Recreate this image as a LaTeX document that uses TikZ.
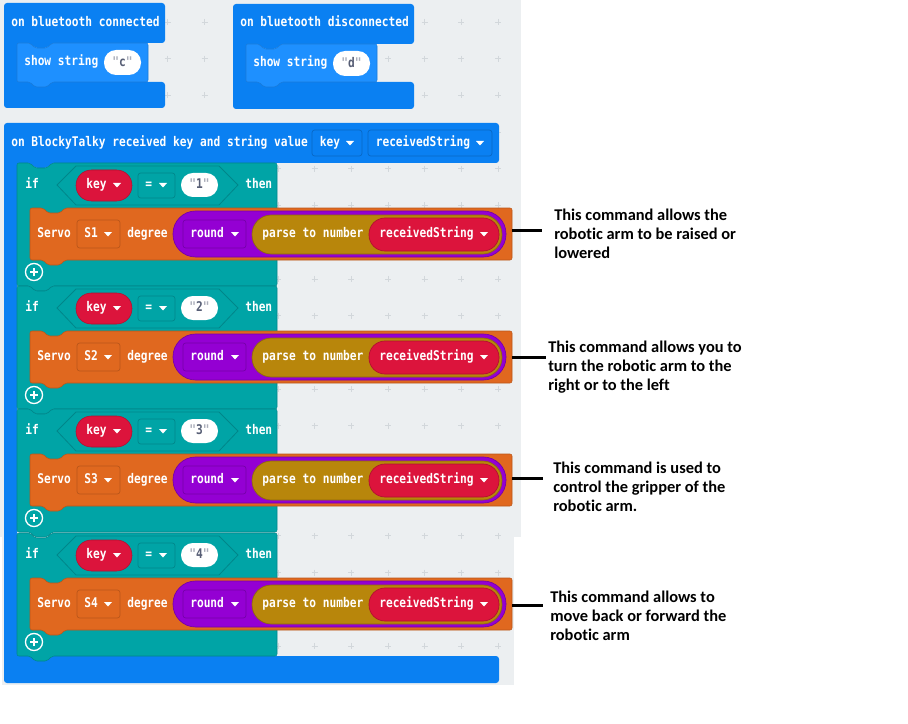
\documentclass[tikz,border=0pt]{standalone}
\usepackage{fontspec}
\newfontfamily\blkfont{DejaVu Sans Mono}[FakeStretch=0.84]
\newfontfamily\notefont{Carlito}[Ligatures=CommonOff]
\usetikzlibrary{calc}
\definecolor{canvas}{HTML}{ECEFF1}
\definecolor{gridmark}{HTML}{D2D7DB}
\definecolor{btblue}{HTML}{0A80F2}
\definecolor{btdk}{HTML}{0867C4}
\definecolor{basicblue}{HTML}{1E90FF}
\definecolor{logic}{HTML}{00A4A6}
\definecolor{logicdk}{HTML}{00868A}
\definecolor{servo}{HTML}{E0681F}
\definecolor{servodk}{HTML}{B9561A}
\definecolor{mathpurple}{HTML}{9400D3}
\definecolor{mathdk}{HTML}{7500A8}
\definecolor{textolive}{HTML}{B8860B}
\definecolor{olivedk}{HTML}{8F690A}
\definecolor{varred}{HTML}{DC143C}
\definecolor{vardk}{HTML}{B0102F}
\definecolor{quote}{HTML}{575E75}
\tikzset{
	blk/.style={font=\blkfont\bfseries\fontsize{10}{12}\selectfont, text=white, inner sep=0pt, anchor=west, text height=5.4pt, text depth=0pt},
	note/.style={font=\notefont\bfseries\fontsize{12.3}{14.25}\selectfont, align=left, anchor=north west, inner sep=0pt},
	pointer/.style={line width=2.25pt}
}
\def\stmt[#1](#2,#3)(#4,#5){\filldraw[#1, rounded corners=1.5pt] (#2,#3) -- ++(13,0) -- ++(5,5) -- ++(12,0) -- ++(5,-5) -- (#4,#3) -- (#4,#5) -- ({#2+35},#5) -- ++(-5,5) -- ++(-12,0) -- ++(-5,-5) -- (#2,#5) -- cycle;}
\def\caret(#1,#2){\fill[white] ({#1-4},{#2-2}) -- ({#1+4},{#2-2}) -- (#1,{#2+2.5}) -- cycle;}
\def\plusicon(#1,#2){\draw[white, line width=1pt] (#1,#2) circle (6.4pt); \draw[white, line width=1.6pt] ({#1-4},#2) -- ({#1+4},#2) (#1,{#2-4}) -- (#1,{#2+4});}
\def\ifblock(#1)#2#3{
	\stmt[fill=logic, draw=logicdk, line width=0.4pt](17,#1)(277,#1+123)
	\node[blk] (if#3) at (25,#1+22) {if};
	\filldraw[fill=logic, draw=logicdk, line width=0.6pt] (57,#1+22) -- (76,#1+3) -- (219,#1+3) -- (238,#1+22) -- (219,#1+42) -- (76,#1+42) -- cycle;
	\filldraw[fill=varred, draw=vardk, line width=0.4pt, rounded corners=11.5pt] (76,#1+7) rectangle (132,#1+38);
	\node[blk] (key#3) at (86,#1+22) {key}; \caret(117,#1+22)
	\filldraw[fill=logic, draw=logicdk, line width=0.5pt, rounded corners=2pt] (138,#1+10) rectangle (175,#1+35);
	\node[blk] (op#3) at (145,#1+22) {=}; \caret(163,#1+22)
	\fill[white, rounded corners=8.9pt] (181,#1+10) rectangle (218,#1+34);
	\node[blk, text=quote, anchor=center] (val#3) at (199.5,#1+22) {{\color{quote!50}"}#3{\color{quote!50}"}};
	\node[blk] (then#3) at (245,#1+22) {then};
	\stmt[fill=servo, draw=servodk, line width=0.4pt](30,#1+45)(512,#1+97)
	\node[blk] (servo#3) at (37,#1+71) {Servo};
	\filldraw[fill=servo, draw=servodk, line width=0.5pt, rounded corners=2pt] (77,#1+57) rectangle (120,#1+85);
	\node[blk] (port#3) at (84,#1+71) {#2}; \caret(108,#1+71)
	\node[blk] (deg#3) at (127,#1+71) {degree};
	\filldraw[fill=mathpurple, draw=mathdk, line width=0.5pt, rounded corners=17pt] (173,#1+48) rectangle (506,#1+94);
	\filldraw[fill=mathpurple, draw=mathdk, line width=0.5pt, rounded corners=2pt] (183,#1+57) rectangle (246,#1+85);
	\node[blk] (round#3) at (190,#1+71) {round}; \caret(235,#1+71)
	\filldraw[fill=textolive, draw=olivedk, line width=0.5pt, rounded corners=14.5pt] (252,#1+52) rectangle (502,#1+91);
	\node[blk] (parse#3) at (262,#1+71) {parse to number};
	\filldraw[fill=varred, draw=vardk, line width=0.5pt, rounded corners=12pt] (369,#1+55) rectangle (499,#1+88);
	\node[blk] (recv#3) at (379,#1+71) {receivedString}; \caret(484,#1+71)
	\plusicon(34,#1+109)
}

\begin{document}
\begin{tikzpicture}[x=0.75pt, y=-0.75pt]
			%%%%% START %%%%%
			
			\useasboundingbox (0,0) rectangle (908,724);
			\fill[white] (0,0) rectangle (908,724);
			\fill[canvas] (0,0) rectangle (521,537);
			\fill[canvas] (2,537) rectangle (514,685);
			\foreach \i in {0,...,13}
				\foreach \j in {0,...,17}
					\draw[gridmark, line width=0.6pt] ({21+36.7*\i-3},{22+36.7*\j}) -- ++(6,0) ({21+36.7*\i},{22+36.7*\j-3}) -- ++(0,6);
			
			\fill[btblue, rounded corners=2.25pt] (4,3) -- (165,3) -- (165,43) -- (52,43) -- (47,48) -- (35,48) -- (30,43) -- (17,43) -- (17,82) -- (165,82) -- (165,108) -- (4,108) -- cycle;
			\stmt[fill=basicblue, draw=basicblue!85!black, line width=0.4pt](17,43)(148,82)
			\node[blk] (conn) at (11,23) {on bluetooth connected};
			\node[blk] (show1) at (24,62) {show string};
			\fill[white, rounded corners=9pt] (104,50) rectangle (141,75);
			\node[blk, text=quote, anchor=center] (strc) at (122.5,62.5) {{\color{quote!50}"}c{\color{quote!50}"}};
			
			\fill[btblue, rounded corners=2.25pt] (233,4) -- (414,4) -- (414,44) -- (281,44) -- (276,49) -- (264,49) -- (259,44) -- (246,44) -- (246,82) -- (414,82) -- (414,109) -- (233,109) -- cycle;
			\stmt[fill=basicblue, draw=basicblue!85!black, line width=0.4pt](246,44)(377,82)
			\node[blk] (disc) at (240,23) {on bluetooth disconnected};
			\node[blk] (show2) at (253,63) {show string};
			\fill[white, rounded corners=9pt] (333,51) rectangle (370,76);
			\node[blk, text=quote, anchor=center] (strd) at (351.5,63.5) {{\color{quote!50}"}d{\color{quote!50}"}};
			
			\fill[btblue, rounded corners=2.25pt] (4,123) -- (499,123) -- (499,163) -- (52,163) -- (47,168) -- (35,168) -- (30,163) -- (17,163) -- (17,656) -- (499,656) -- (499,683) -- (4,683) -- cycle;
			\node[blk] (recv) at (11,143) {on BlockyTalky received key and string value};
			\filldraw[fill=btblue, draw=btdk, line width=0.5pt, rounded corners=2pt] (312,130) rectangle (362,156);
			\node[blk] (keyarg) at (319.5,143) {key}; \caret(350,143)
			\filldraw[fill=btblue, draw=btdk, line width=0.5pt, rounded corners=2pt] (368,130) rectangle (492,156);
			\node[blk] (strarg) at (375.5,143) {receivedString}; \caret(480,143)
			
			\ifblock(163){S1}{1}
			\ifblock(286){S2}{2}
			\ifblock(409){S3}{3}
			\ifblock(533){S4}{4}
			
			\coordinate (arm1) at (512,230); \coordinate (tip1) at (542,230);
			\coordinate (arm2) at (512,357); \coordinate (tip2) at (546,357);
			\coordinate (arm3) at (512,478); \coordinate (tip3) at (543,478);
			\coordinate (arm4) at (512,605); \coordinate (tip4) at (543,605);
			\draw[pointer] (arm1) -- (tip1);
			\draw[pointer] (arm2) -- (tip2);
			\draw[pointer] (arm3) -- (tip3);
			\draw[pointer] (arm4) -- (tip4);
			
			\node[note] (note1) at (554,208.5) {This command allows the\\robotic arm to be raised or\\lowered};
			\node[note] (note2) at (548,340.3) {This command allows you to\\turn the robotic arm to the\\right or to the left};
			\node[note] (note3) at (553,461.3) {This command is used to\\control the gripper of the\\robotic arm.};
			\node[note] (note4) at (550,590.3) {This command allows to\\move back or forward the\\robotic arm};
			
			%%%%% END %%%%%
\end{tikzpicture}
\end{document}
